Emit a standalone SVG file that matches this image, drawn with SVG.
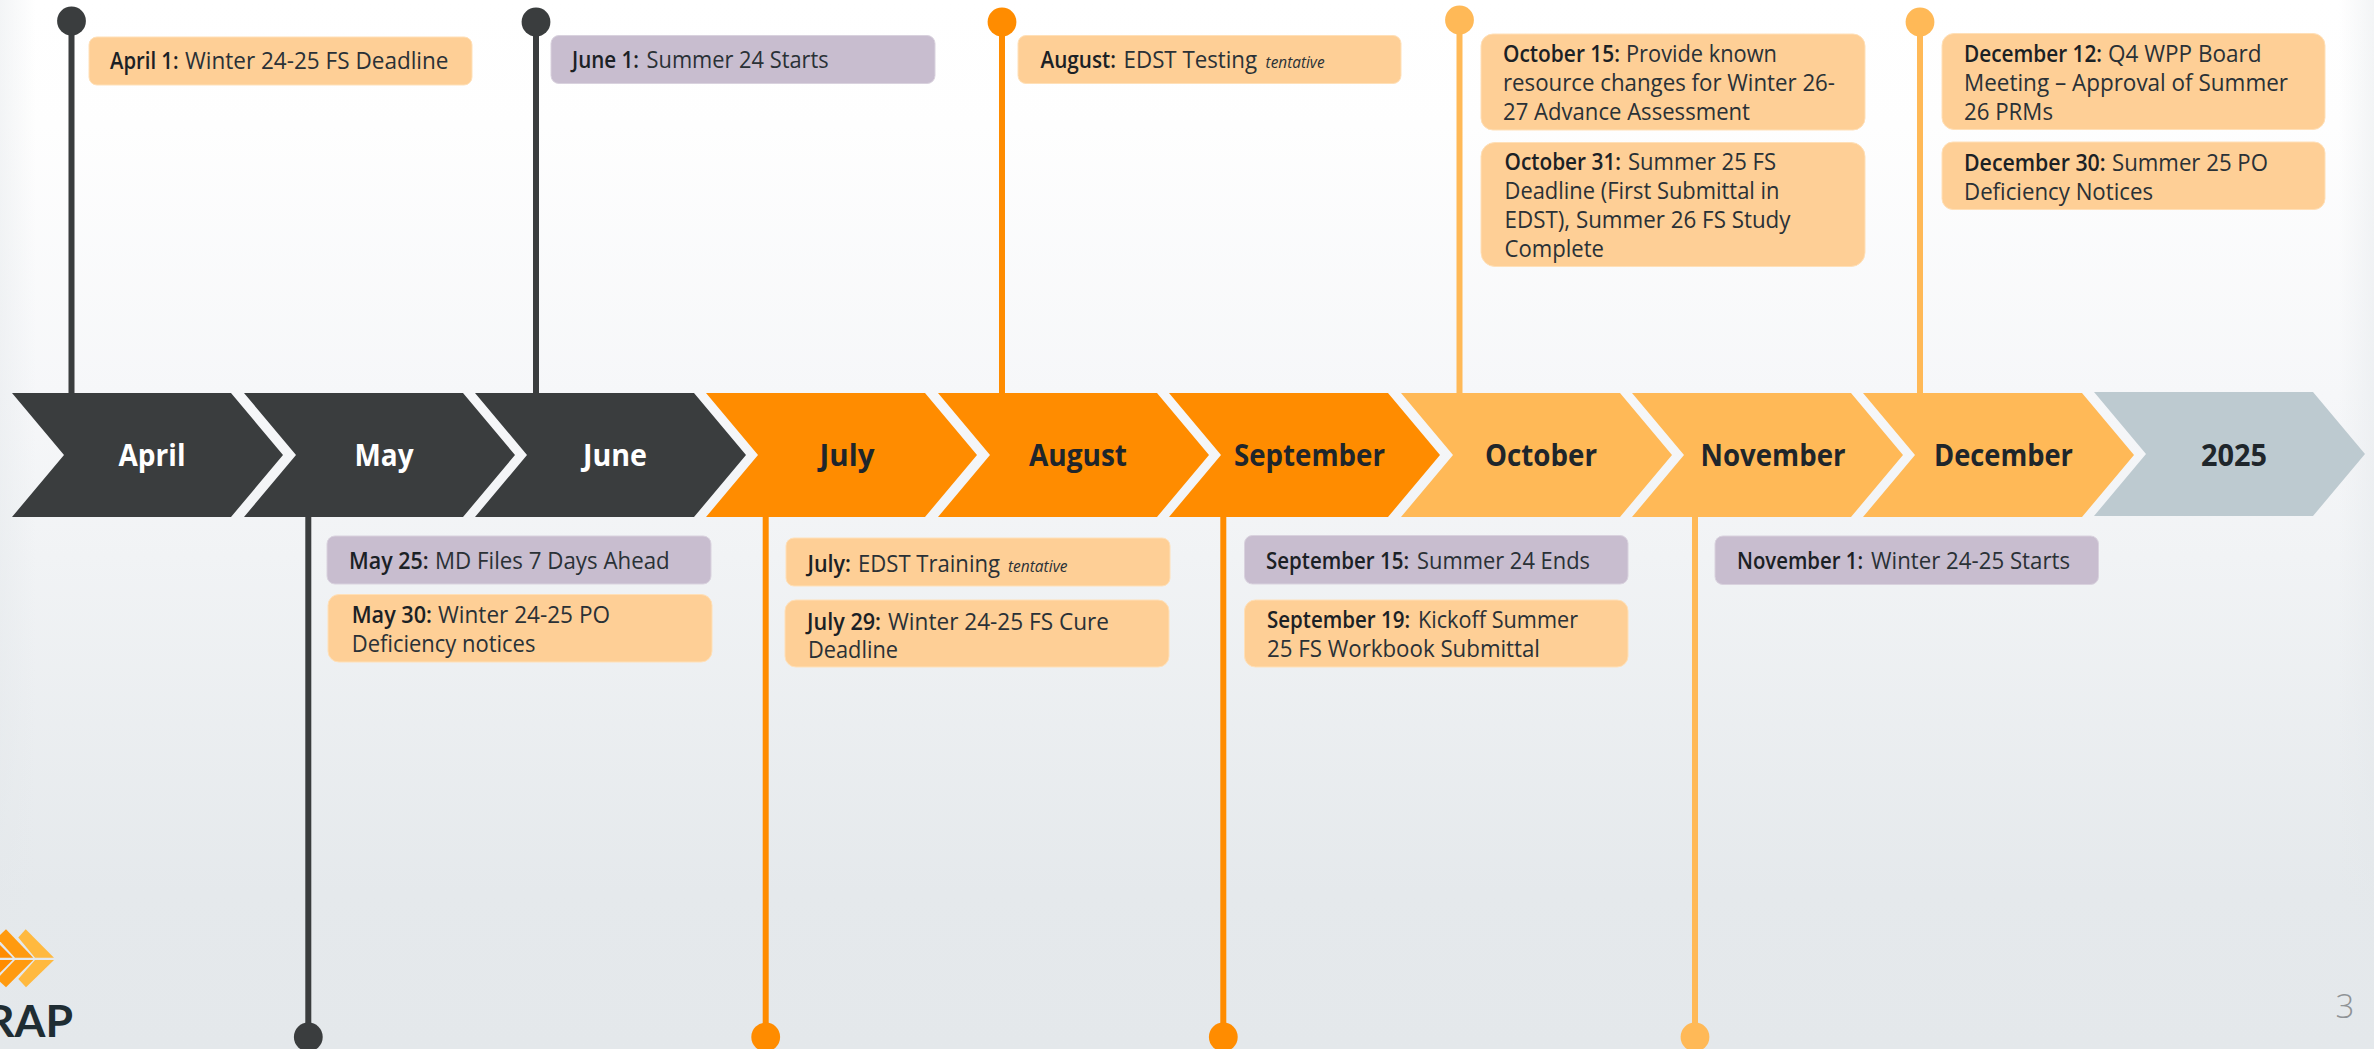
<svg xmlns="http://www.w3.org/2000/svg" width="2374" height="1049" viewBox="0 0 2374 1049">
<style>
text{font-family:"Open Sans","Noto Sans","Liberation Sans",sans-serif;fill:#2a3136}
.m{font-size:30px;font-weight:700;text-anchor:middle;fill:#1f262b}
.w{fill:#fff}
.t{font-size:23px;font-weight:400}
.b{font-weight:600;fill:#1b2125}
.i{font-size:15.5px;font-style:italic}
.dark{fill:#3a3d3e}.or{fill:#ff8c00}.ye{fill:#ffb957}.gr{fill:#bdcad0}
.bo{fill:#fecf96;stroke:#ffe0b8;stroke-width:1}.bp{fill:#c8bdcf;stroke:#d9d2de;stroke-width:1}
.sd{stroke:#3a3d3e}.so{stroke:#ff8c00}.sy{stroke:#ffb957}
#connectors line{stroke-width:6}
</style>
<defs>
<linearGradient id="bgv" x1="0" y1="0" x2="0" y2="1"><stop offset="0" stop-color="#fff"/><stop offset="0.12" stop-color="#fefefe"/><stop offset="0.375" stop-color="#f6f7f9"/><stop offset="0.53" stop-color="#f1f3f5"/><stop offset="0.85" stop-color="#e5e9ec"/><stop offset="1" stop-color="#e4e8eb"/></linearGradient>
<linearGradient id="bgh" x1="0" y1="0" x2="1" y2="0"><stop offset="0" stop-color="#e4e8eb" stop-opacity=".45"/><stop offset="0.015" stop-color="#e4e8eb" stop-opacity="0"/><stop offset="0.985" stop-color="#e4e8eb" stop-opacity="0"/><stop offset="1" stop-color="#e4e8eb" stop-opacity=".45"/></linearGradient>
</defs>
<rect id="background" width="2374" height="1049" fill="url(#bgv)"/>
<rect width="2374" height="1049" fill="url(#bgh)"/>

<g id="connectors">
<line class="sd" x1="71.5" y1="21" x2="71.5" y2="394"/><circle class="dark" cx="71.5" cy="21" r="14.4"/>
<line class="sd" x1="536" y1="22" x2="536" y2="394"/><circle class="dark" cx="536" cy="22" r="14.4"/>
<line class="so" x1="1002" y1="22" x2="1002" y2="394"/><circle class="or" cx="1002" cy="22" r="14.4"/>
<line class="sy" x1="1459.5" y1="20" x2="1459.5" y2="394"/><circle class="ye" cx="1459.5" cy="20" r="14.4"/>
<line class="sy" x1="1920" y1="22" x2="1920" y2="394"/><circle class="ye" cx="1920" cy="22" r="14.4"/>
<line class="sd" x1="308.3" y1="516" x2="308.3" y2="1037"/><circle class="dark" cx="308.3" cy="1037" r="14.4"/>
<line class="so" x1="765.7" y1="516" x2="765.7" y2="1037"/><circle class="or" cx="765.7" cy="1037" r="14.4"/>
<line class="so" x1="1223.3" y1="516" x2="1223.3" y2="1037"/><circle class="or" cx="1223.3" cy="1037" r="14.4"/>
<line class="sy" x1="1695" y1="516" x2="1695" y2="1037"/><circle class="ye" cx="1695" cy="1037" r="14.4"/>
</g>

<g id="month-april"><polygon class="dark" points="12,393 231,393 283,455 231,517 12,517 64,455"/><text class="m w" x="152" y="466" textLength="67" lengthAdjust="spacingAndGlyphs">April</text></g>
<g id="month-may"><polygon class="dark" points="244,393 463,393 515,455 463,517 244,517 296,455"/><text class="m w" x="384" y="466" textLength="59" lengthAdjust="spacingAndGlyphs">May</text></g>
<g id="month-june"><polygon class="dark" points="475,393 694,393 746,455 694,517 475,517 527,455"/><text class="m w" x="615" y="466" textLength="64" lengthAdjust="spacingAndGlyphs">June</text></g>
<g id="month-july"><polygon class="or" points="706,393 925,393 977,455 925,517 706,517 758,455"/><text class="m" x="847" y="466" textLength="55" lengthAdjust="spacingAndGlyphs">July</text></g>
<g id="month-august"><polygon class="or" points="938,393 1157,393 1209,455 1157,517 938,517 990,455"/><text class="m" x="1078" y="466" textLength="98" lengthAdjust="spacingAndGlyphs">August</text></g>
<g id="month-september"><polygon class="or" points="1169,393 1388,393 1440,455 1388,517 1169,517 1221,455"/><text class="m" x="1309.5" y="466" textLength="151" lengthAdjust="spacingAndGlyphs">September</text></g>
<g id="month-october"><polygon class="ye" points="1401,393 1620,393 1672,455 1620,517 1401,517 1453,455"/><text class="m" x="1541" y="466" textLength="112" lengthAdjust="spacingAndGlyphs">October</text></g>
<g id="month-november"><polygon class="ye" points="1632,393 1851,393 1903,455 1851,517 1632,517 1684,455"/><text class="m" x="1773" y="466" textLength="145" lengthAdjust="spacingAndGlyphs">November</text></g>
<g id="month-december"><polygon class="ye" points="1863,393 2082,393 2134,455 2082,517 1863,517 1915,455"/><text class="m" x="2003.5" y="466" textLength="139" lengthAdjust="spacingAndGlyphs">December</text></g>
<g id="month-2025"><polygon class="gr" points="2094,392 2313,392 2365,454 2313,516 2094,516 2146,454"/><text class="m" x="2234" y="466" textLength="66" lengthAdjust="spacingAndGlyphs">2025</text></g>

<g id="note-april-1"><rect class="bo" x="89" y="37" width="383" height="48" rx="8"/><text class="t" y="69"><tspan class="b" x="110" textLength="68.5" lengthAdjust="spacingAndGlyphs">April 1:</tspan><tspan x="185" textLength="263.5" lengthAdjust="spacingAndGlyphs">Winter 24-25 FS Deadline</tspan></text></g>
<g id="note-june-1"><rect class="bp" x="551" y="35.5" width="384" height="48" rx="8"/><text class="t" y="68"><tspan class="b" x="572" textLength="67" lengthAdjust="spacingAndGlyphs">June 1:</tspan><tspan x="646.6" textLength="182" lengthAdjust="spacingAndGlyphs">Summer 24 Starts</tspan></text></g>
<g id="note-august"><rect class="bo" x="1018" y="35.5" width="383" height="48" rx="8"/><text class="t" y="68"><tspan class="b" x="1040.5" textLength="75.5" lengthAdjust="spacingAndGlyphs">August:</tspan><tspan x="1123.6" textLength="133.5" lengthAdjust="spacingAndGlyphs">EDST Testing</tspan><tspan class="i" x="1265.6" textLength="59" lengthAdjust="spacingAndGlyphs">tentative</tspan></text></g>
<g id="note-october-15"><rect class="bo" x="1481" y="34" width="384" height="96" rx="12"/><text class="t"><tspan class="b" x="1503" y="62" textLength="117" lengthAdjust="spacingAndGlyphs">October 15:</tspan><tspan x="1626" y="62" textLength="151" lengthAdjust="spacingAndGlyphs">Provide known</tspan><tspan x="1503" y="91" textLength="332" lengthAdjust="spacingAndGlyphs">resource changes for Winter 26-</tspan><tspan x="1503" y="120" textLength="247" lengthAdjust="spacingAndGlyphs">27 Advance Assessment</tspan></text></g>
<g id="note-october-31"><rect class="bo" x="1481" y="142.5" width="384" height="124" rx="14"/><text class="t"><tspan class="b" x="1504.5" y="170" textLength="116.5" lengthAdjust="spacingAndGlyphs">October 31:</tspan><tspan x="1628" y="170" textLength="148" lengthAdjust="spacingAndGlyphs">Summer 25 FS</tspan><tspan x="1504.5" y="199" textLength="275" lengthAdjust="spacingAndGlyphs">Deadline (First Submittal in</tspan><tspan x="1504.5" y="228" textLength="286" lengthAdjust="spacingAndGlyphs">EDST), Summer 26 FS Study</tspan><tspan x="1504.5" y="257" textLength="99.5" lengthAdjust="spacingAndGlyphs">Complete</tspan></text></g>
<g id="note-december-12"><rect class="bo" x="1942" y="33.5" width="383" height="96" rx="12"/><text class="t"><tspan class="b" x="1964" y="62" textLength="138" lengthAdjust="spacingAndGlyphs">December 12:</tspan><tspan x="2108" y="62" textLength="153.5" lengthAdjust="spacingAndGlyphs">Q4 WPP Board</tspan><tspan x="1964" y="91" textLength="324" lengthAdjust="spacingAndGlyphs">Meeting – Approval of Summer</tspan><tspan x="1964" y="120" textLength="89" lengthAdjust="spacingAndGlyphs">26 PRMs</tspan></text></g>
<g id="note-december-30"><rect class="bo" x="1942" y="142" width="383" height="67.5" rx="11"/><text class="t"><tspan class="b" x="1964" y="170.5" textLength="141.6" lengthAdjust="spacingAndGlyphs">December 30:</tspan><tspan x="2112" y="170.5" textLength="156" lengthAdjust="spacingAndGlyphs">Summer 25 PO</tspan><tspan x="1964" y="199.5" textLength="189" lengthAdjust="spacingAndGlyphs">Deficiency Notices</tspan></text></g>
<g id="note-may-25"><rect class="bp" x="327" y="536" width="384" height="48" rx="8"/><text class="t" y="569"><tspan class="b" x="349" textLength="79.6" lengthAdjust="spacingAndGlyphs">May 25:</tspan><tspan x="435" textLength="234.7" lengthAdjust="spacingAndGlyphs">MD Files 7 Days Ahead</tspan></text></g>
<g id="note-may-30"><rect class="bo" x="328" y="594.5" width="384" height="67.5" rx="11"/><text class="t"><tspan class="b" x="351.7" y="623" textLength="80.3" lengthAdjust="spacingAndGlyphs">May 30:</tspan><tspan x="438" y="623" textLength="172" lengthAdjust="spacingAndGlyphs">Winter 24-25 PO</tspan><tspan x="351.7" y="652" textLength="183.7" lengthAdjust="spacingAndGlyphs">Deficiency notices</tspan></text></g>
<g id="note-july"><rect class="bo" x="786" y="538" width="384" height="48" rx="8"/><text class="t" y="572"><tspan class="b" x="807.5" textLength="43.5" lengthAdjust="spacingAndGlyphs">July:</tspan><tspan x="858" textLength="142" lengthAdjust="spacingAndGlyphs">EDST Training</tspan><tspan class="i" x="1008" textLength="59.5" lengthAdjust="spacingAndGlyphs">tentative</tspan></text></g>
<g id="note-july-29"><rect class="bo" x="785" y="600" width="384" height="67" rx="11"/><text class="t"><tspan class="b" x="807" y="630" textLength="74" lengthAdjust="spacingAndGlyphs">July 29:</tspan><tspan x="888" y="630" textLength="221" lengthAdjust="spacingAndGlyphs">Winter 24-25 FS Cure</tspan><tspan x="808" y="658" textLength="90" lengthAdjust="spacingAndGlyphs">Deadline</tspan></text></g>
<g id="note-september-15"><rect class="bp" x="1244.5" y="535.5" width="383.5" height="48.5" rx="8"/><text class="t" y="569"><tspan class="b" x="1266" textLength="143" lengthAdjust="spacingAndGlyphs">September 15:</tspan><tspan x="1417" textLength="173" lengthAdjust="spacingAndGlyphs">Summer 24 Ends</tspan></text></g>
<g id="note-september-19"><rect class="bo" x="1244.5" y="600" width="383.5" height="67" rx="11"/><text class="t"><tspan class="b" x="1267" y="628" textLength="143" lengthAdjust="spacingAndGlyphs">September 19:</tspan><tspan x="1418" y="628" textLength="160" lengthAdjust="spacingAndGlyphs">Kickoff Summer</tspan><tspan x="1267" y="657" textLength="273" lengthAdjust="spacingAndGlyphs">25 FS Workbook Submittal</tspan></text></g>
<g id="note-november-1"><rect class="bp" x="1715" y="536" width="383.5" height="48.5" rx="8"/><text class="t" y="569"><tspan class="b" x="1737" textLength="126" lengthAdjust="spacingAndGlyphs">November 1:</tspan><tspan x="1871" textLength="199" lengthAdjust="spacingAndGlyphs">Winter 24-25 Starts</tspan></text></g>

<g id="logo">
<polygon fill="#ffb93f" points="18.3,937.5 25.7,929.3 54,957.7 35,957.7"/>
<polygon fill="#ffb93f" points="18.3,979 26,987.3 54,960 35,960"/>
<polygon fill="#ff9a0f" points="-3,938 6,929.3 33.3,957.7 15,957.7"/>
<polygon fill="#ff9a0f" points="-3,979 6,987.3 33.3,960 15,960"/>
<polygon fill="#ff8c00" points="0,945 12.7,957.7 0,957.7"/>
<polygon fill="#ff8c00" points="0,972.7 12.7,960 0,960"/>
<text x="-14" y="1037" font-size="44" font-weight="700" style="font-family:Lato,'Open Sans',sans-serif;fill:#1f2d33" textLength="87" lengthAdjust="spacingAndGlyphs">RAP</text>
</g>
<text id="page-number" x="2345" y="1018" text-anchor="middle" font-size="33" font-weight="300" style="fill:#8f9396">3</text>
</svg>
